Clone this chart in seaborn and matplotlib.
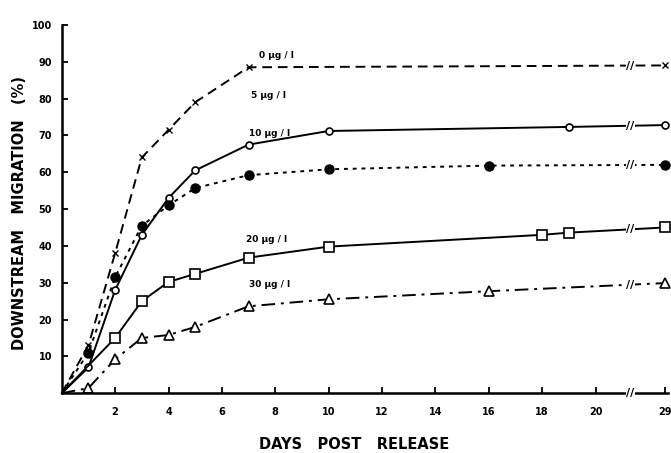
import numpy as np
import pandas as pd
import seaborn as sns
import matplotlib.pyplot as plt

# days after release; day 29 sits after an axis break
days_0 = [0, 1, 2, 3, 4, 5, 7, 29]
pct_0 = [0, 13, 38, 64, 71.5, 79, 88.5, 89]

days_5 = [0, 1, 2, 3, 4, 5, 7, 10, 19, 29]
pct_5 = [0, 7, 28, 43, 53, 60.5, 67.5, 71.2, 72.3, 72.8]

days_10 = [0, 1, 2, 3, 4, 5, 7, 10, 16, 29]
pct_10 = [0, 11, 31.5, 45.5, 51, 55.7, 59.2, 60.8, 61.8, 62]

days_20 = [0, 2, 3, 4, 5, 7, 10, 18, 19, 29]
pct_20 = [0, 15, 25, 30.2, 32.4, 36.8, 39.8, 43, 43.6, 45]

days_30 = [0, 1, 2, 3, 4, 5, 7, 10, 16, 29]
pct_30 = [0, 1.4, 9.2, 15, 15.8, 18, 23.6, 25.5, 27.7, 29.9]

labels = ['0 \u00b5g / l', '5 \u00b5g / l', '10 \u00b5g / l', '20 \u00b5g / l', '30 \u00b5g / l']
x_ticks = [2, 4, 6, 8, 10, 12, 14, 16, 18, 20, 29]
y_ticks = [10, 20, 30, 40, 50, 60, 70, 80, 90, 100]

BREAK_AT = 21.3
LAST_POS = 22.6


def to_pos(d):
    d = np.asarray(d, dtype=float)
    return np.where(d > 20, LAST_POS, d)


frames = []
for lab, d, p in zip(labels, [days_0, days_5, days_10, days_20, days_30],
                     [pct_0, pct_5, pct_10, pct_20, pct_30]):
    frames.append(pd.DataFrame({'series': lab, 'day': d, 'pos': to_pos(d), 'pct': p}))
df = pd.concat(frames, ignore_index=True)

styles = {
    labels[0]: dict(linestyle=(0, (5, 3)), marker='x', markersize=4, mfc='black', mew=1.0),
    labels[1]: dict(linestyle='-', marker='o', markersize=5, mfc='white', mew=1.2),
    labels[2]: dict(linestyle=(0, (2, 2.5)), marker='o', markersize=6.5, mfc='black', mew=1.0),
    labels[3]: dict(linestyle='-', marker='s', markersize=7, mfc='white', mew=1.2),
    labels[4]: dict(linestyle=(0, (7, 3, 1.5, 3)), marker='^', markersize=7.5, mfc='white', mew=1.2),
}
label_xy = {
    labels[0]: (7.4, 90.5),
    labels[1]: (7.1, 79.5),
    labels[2]: (7.0, 69.3),
    labels[3]: (6.9, 40.5),
    labels[4]: (7.0, 28.2),
}

sns.set_theme(style='ticks', rc={'text.color': 'black', 'axes.labelcolor': 'black',
                                 'xtick.color': 'black', 'ytick.color': 'black',
                                 'axes.edgecolor': 'black'})
plt.rcParams['font.family'] = ['DejaVu Sans']

fig = plt.figure(figsize=(6.71, 4.53), dpi=100)
ax = fig.add_axes([0.092, 0.132, 0.903, 0.813])

for lab in labels:
    sub = df[df['series'] == lab]
    sns.lineplot(data=sub, x='pos', y='pct', ax=ax, color='black', lw=1.4,
                 mec='black', clip_on=False, estimator=None, sort=False,
                 markevery=list(range(1, len(sub))), **styles[lab])
    # break marks on each line
    yb = np.interp(BREAK_AT, sub['pos'], sub['pct'])
    ax.text(BREAK_AT, yb, '//', ha='center', va='center', fontsize=8,
            fontweight='bold',
            bbox=dict(boxstyle='square,pad=0.05', fc='white', ec='none'))
    tx, ty = label_xy[lab]
    ax.text(tx, ty, lab, fontsize=6.5, fontweight='bold', ha='left', va='bottom')

ax.text(BREAK_AT, 0, '//', ha='center', va='center', fontsize=8, fontweight='bold',
        clip_on=False, bbox=dict(boxstyle='square,pad=0.05', fc='white', ec='none'))

ax.set_xlim(0, 22.7)
ax.set_ylim(0, 100)
ax.set_xticks([float(to_pos(t)) for t in x_ticks])
ax.set_xticklabels([str(t) for t in x_ticks])
ax.set_yticks(y_ticks)
ax.tick_params(axis='both', direction='in', length=4, width=1.3, labelsize=7, pad=7)
ax.tick_params(axis='x', pad=10)
for t in ax.get_xticklabels() + ax.get_yticklabels():
    t.set_fontweight('bold')

sns.despine(ax=ax)
ax.spines['left'].set_linewidth(1.8)
ax.spines['bottom'].set_linewidth(1.8)

ax.set_xlabel('DAYS   POST   RELEASE', fontsize=10.5, fontweight='bold')
ax.xaxis.set_label_coords(0.483, -0.118)
ax.set_ylabel('DOWNSTREAM   MIGRATION   (%)', fontsize=10.5, fontweight='bold')
ax.yaxis.set_label_coords(-0.058, 0.49)

fig.savefig('out.png', dpi=100)
